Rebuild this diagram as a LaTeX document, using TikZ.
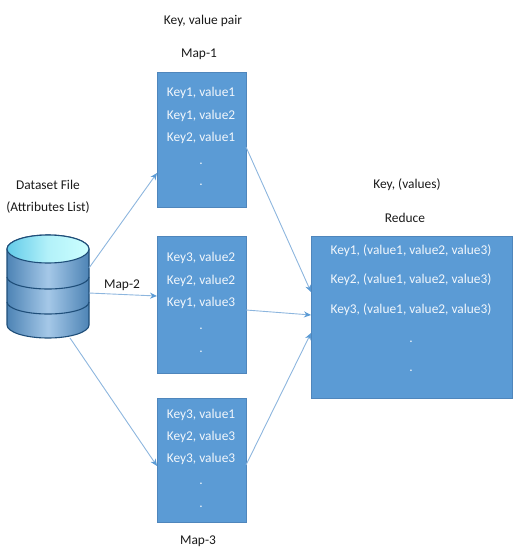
\documentclass[tikz,border=0pt]{standalone}
\usepackage{fontspec}
\setmainfont{Carlito}
\usetikzlibrary{arrows.meta}
\definecolor{boxblue}{HTML}{5B9BD5}
\definecolor{boxedge}{HTML}{4F86BC}
\definecolor{linkblue}{HTML}{8DB6DE}
\definecolor{cylin}{HTML}{1F4E79}
\definecolor{labelink}{HTML}{1A1A1A}
\tikzset{
  x=1pt,y=-1pt,
  databox/.style={draw=boxedge,line width=0.5pt,fill=boxblue,inner sep=0pt,outer sep=0pt,anchor=north west},
  keytext/.style={text=white!92!boxblue,font=\fontsize{13.4}{15}\selectfont,inner sep=0pt,anchor=center},
  caption/.style={text=labelink,font=\fontsize{13.4}{15}\selectfont,inner sep=0pt,anchor=center},
  link/.style={draw=linkblue,line width=0.9pt,-{Stealth[length=7pt,width=6pt,color=boxblue]}},
  cylband/.style={draw=cylin,line width=1.1pt,left color=boxblue!85!black,right color=boxblue!85!black,middle color=white!45!boxblue},
}
\begin{document}
\begin{tikzpicture}
\useasboundingbox (0,0) rectangle (524,557);
% boxes
\node[databox,minimum width=89pt,minimum height=135pt] (m1) at (157,72) {};
\node[databox,minimum width=89pt,minimum height=137pt] (m2) at (157,236) {};
\node[databox,minimum width=89pt,minimum height=124pt] (m3) at (157,398) {};
\node[databox,minimum width=201pt,minimum height=162pt] (rd) at (311,236) {};
% database
\node[inner sep=0pt,outer sep=0pt,minimum width=82pt,minimum height=103pt,anchor=north west] (db) at (7,235) {};
\path[cylband] (7,249) -- (7,325) arc[start angle=180,end angle=360,x radius=41,y radius=-13] -- (89,249) arc[start angle=0,end angle=180,x radius=41,y radius=-14] -- cycle;
\draw[cylin,line width=1.1pt] (7,302) arc[start angle=180,end angle=360,x radius=41,y radius=-12];
\draw[cylin,line width=1.1pt] (7,277) arc[start angle=180,end angle=360,x radius=41,y radius=-12];
\path[draw=cylin,line width=1.1pt,left color=boxblue!65!cyan!80!white,right color=cyan!20!white,middle color=boxblue!40!cyan!35!white] (48,249) ellipse[x radius=41,y radius=14];
% connectors
\draw[link] ([yshift=18.5pt]db.east) -- ([yshift=-33.5pt]m1.west);
\draw[link] ([yshift=-6.5pt]db.east) -- ([yshift=8.5pt]m2.west);
\draw[link] ([xshift=22pt]db.south) -- ([yshift=-6pt]m3.west);
\draw[link] ([yshift=-7.5pt]m1.east) -- ([yshift=25pt]rd.west);
\draw[link] ([yshift=-5.5pt]m2.east) -- ([yshift=2pt]rd.west);
\draw[link] ([yshift=-5pt]m3.east) -- ([yshift=-16pt]rd.west);
% captions
\node[caption] (c1) at (203,21) {Key, value pair};
\node[caption] (c2) at (199,54) {Map-1};
\node[caption] (c3) at (48,185) {Dataset File};
\node[caption] (c4) at (48,208) {(Attributes List)};
\node[caption] (c5) at (122,285) {Map-2};
\node[caption] (c6) at (198,541) {Map-3};
\node[caption] (c7) at (407,185) {Key, (values)};
\node[caption] (c8) at (405,218) {Reduce};
% map 1
\node[keytext] (a1) at (201,93) {Key1, value1};
\node[keytext] (a2) at (201,116) {Key1, value2};
\node[keytext] (a3) at (201,138) {Key2, value1};
\node[keytext] (a4) at (201,164) {.};
\node[keytext] (a5) at (201,185) {.};
% map 2
\node[keytext] (b1) at (201,258) {Key3, value2};
\node[keytext] (b2) at (201,281) {Key2, value2};
\node[keytext] (b3) at (201,303) {Key1, value3};
\node[keytext] (b4) at (201,329) {.};
\node[keytext] (b5) at (201,352) {.};
% map 3
\node[keytext] (e1) at (201,415) {Key3, value1};
\node[keytext] (e2) at (201,437) {Key2, value3};
\node[keytext] (e3) at (201,459) {Key3, value3};
\node[keytext] (e4) at (201,484) {.};
\node[keytext] (e5) at (201,507) {.};
% reduce
\node[keytext] (r1) at (411,251) {Key1, (value1, value2, value3)};
\node[keytext] (r2) at (411,280) {Key2, (value1, value2, value3)};
\node[keytext] (r3) at (411,310) {Key3, (value1, value2, value3)};
\node[keytext] (r4) at (411,342) {.};
\node[keytext] (r5) at (411,371) {.};
\end{tikzpicture}
\end{document}
